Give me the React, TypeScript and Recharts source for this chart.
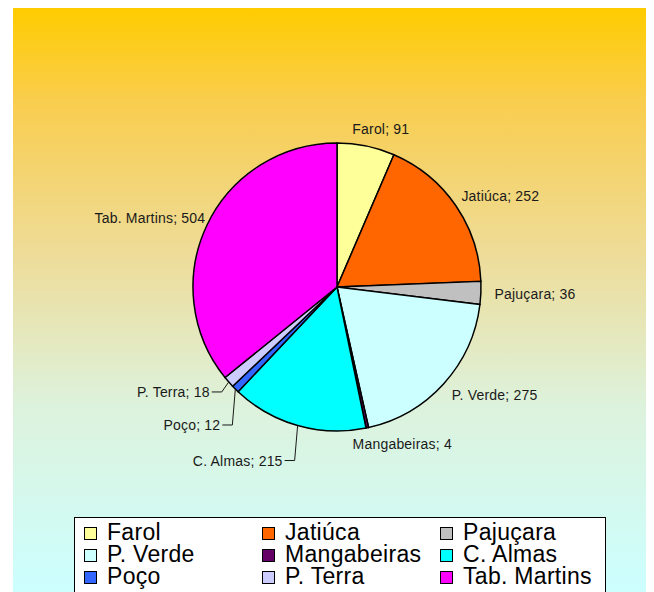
import { PieChart, Pie, Cell, Legend } from "recharts";

const bairros = ["Farol", "Jatiúca", "Pajuçara", "P. Verde", "Mangabeiras", "C. Almas", "Poço", "P. Terra", "Tab. Martins"];
const casos = [91, 252, 36, 275, 4, 215, 12, 18, 504];
const cores = ["#FFFF99", "#FF6600", "#C0C0C0", "#CCFFFF", "#660066", "#00FFFF", "#3366FF", "#CCCCFF", "#FF00FF"];

const chartData = bairros.map((name, i) => ({ name, value: casos[i] }));

// small slices at the lower left get a leader line (elbow offset from the slice edge)
const leaderDrop: Record<string, [number, number]> = {
  "P. Terra": [-7, 10],
  "Poço": [-3, 36],
  "C. Almas": [-3, 35],
};
const labelNudge: Record<string, number> = { Mangabeiras: 22, "P. Verde": 8, Farol: 6, "Tab. Martins": 8 };

const RADIAN = Math.PI / 180;
const labelFont = { fontFamily: "Liberation Sans, Arial, sans-serif", fontSize: 14, fill: "#1a1a1a", letterSpacing: 0.2 };

const renderLabel = (props: any) => {
  const { cx, cy, midAngle, outerRadius, name, value } = props;
  const cos = Math.cos(-midAngle * RADIAN);
  const sin = Math.sin(-midAngle * RADIAN);
  const text = `${name}; ${value}`;
  const drop = leaderDrop[name];
  if (drop) {
    const ex = cx + outerRadius * cos;
    const ey = cy + outerRadius * sin;
    const bx = ex + drop[0];
    const by = ey + drop[1];
    return (
      <g>
        <polyline points={`${ex},${ey} ${bx},${by} ${bx - 10},${by}`} fill="none" stroke="#1a1a1a" strokeWidth={1} />
        <text x={bx - 12} y={by} textAnchor="end" dominantBaseline="central" style={labelFont}>
          {text}
        </text>
      </g>
    );
  }
  const r = outerRadius + 11;
  const w = text.length * 7.2;
  const x = cx + r * cos + (cos * w) / 2 + (labelNudge[name] || 0);
  const y = cy + r * sin + sin * 6;
  return (
    <text x={x} y={y} textAnchor="middle" dominantBaseline="central" style={labelFont}>
      {text}
    </text>
  );
};

const renderLegend = () => (
  <div
    style={{
      width: 532,
      height: 90,
      boxSizing: "border-box",
      border: "1px solid #000",
      background: "#fff",
      padding: "3px 0 0 9px",
      display: "grid",
      gridTemplateColumns: "178px 178px 170px",
      gridAutoRows: "22px",
      fontFamily: "Liberation Sans, Arial, sans-serif",
      fontSize: 23,
      lineHeight: "22px",
      letterSpacing: 0.3,
      color: "#000",
    }}
  >
    {bairros.map((b, i) => (
      <div key={b} style={{ display: "flex", alignItems: "center", height: 22, whiteSpace: "nowrap" }}>
        <span
          style={{
            display: "inline-block",
            flex: "0 0 auto",
            width: 11,
            height: 11,
            border: "1px solid #000",
            background: cores[i],
            marginRight: 10,
            marginTop: 3,
          }}
        />
        {b}
      </div>
    ))}
  </div>
);

export default function App() {
  return (
    <div style={{ position: "relative", width: 646, height: 584, overflow: "hidden" }}>
      <div
        style={{
          position: "absolute",
          left: 5,
          top: 0,
          width: 635,
          height: 584,
          background:
            "linear-gradient(to bottom, #FFCC00 0%, #F9CD4E 16%, #EEDC98 42%, #DDF2DC 68%, #CCFFFF 100%)",
        }}
      />
      <div style={{ position: "absolute", left: 640, top: 0, width: 3, height: 584, background: "#C4C4C4" }} />
      <div style={{ position: "absolute", left: 0, top: 0 }}>
        <PieChart width={646} height={584} margin={{ top: 0, right: 0, bottom: 0, left: 0 }}>
          <Pie
            data={chartData}
            dataKey="value"
            nameKey="name"
            cx={329}
            cy={279}
            outerRadius={144}
            startAngle={90}
            endAngle={-270}
            stroke="#000"
            strokeWidth={1.5}
            label={renderLabel}
            labelLine={false}
            isAnimationActive={false}
          >
            {chartData.map((d, i) => (
              <Cell key={d.name} fill={cores[i]} />
            ))}
          </Pie>
          <Legend content={renderLegend} wrapperStyle={{ position: "absolute", left: 66, top: 509, width: 532 }} />
        </PieChart>
      </div>
    </div>
  );
}
